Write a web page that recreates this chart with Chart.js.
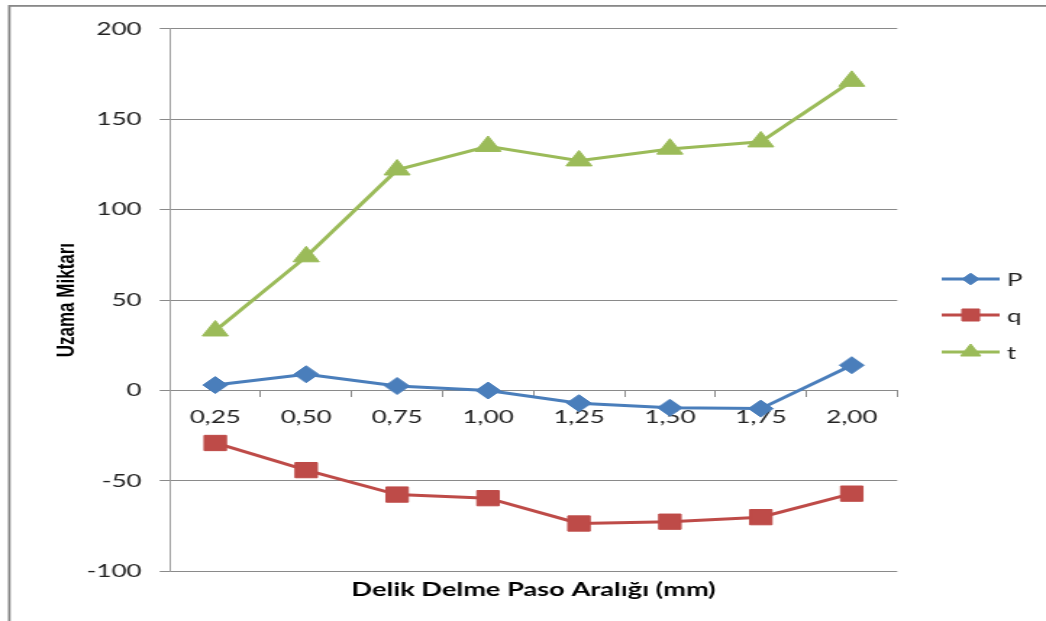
<!DOCTYPE html>
<html>
<head>
<meta charset="utf-8">
<script src="https://cdn.jsdelivr.net/npm/chart.js@4.4.1/dist/chart.umd.min.js"></script>
<style>
  html, body { margin: 0; padding: 0; background: #fff; overflow: hidden; }
  #wrap {
    position: absolute; left: 0; top: 0;
    width: 722px; height: 621px;
    transform: scaleX(1.44875); transform-origin: 0 0;
  }
</style>
</head>
<body>
<div id="wrap"><canvas id="c" width="722" height="621"></canvas></div>
<script>
// Hole-drilling pitch (mm) and measured elongation per series
const categories = ['0,25', '0,50', '0,75', '1,00', '1,25', '1,50', '1,75', '2,00'];
const seriesP = [3, 9, 2.5, 0, -7, -9.5, -10, 14];
const seriesQ = [-29, -44, -57.5, -59.5, -73.5, -72.5, -70, -57];
const seriesT = [33, 74, 122, 135, 127, 133.5, 137.5, 171];
const seriesNames = ['P', 'q', 't'];
const yMin = -100, yMax = 200, yStep = 50;

const xTitle = 'Delik Delme Paso Aralığı (mm)';
const yTitle = 'Uzama Miktarı';

const COLORS = { P: '#4a7ebb', q: '#be4b48', t: '#9bbb59' };
const GRID = '#8a8a8a';
const TEXT = '#222';
const TICK_FONT = { family: 'Lato', size: 18 };

// Outer frame of the chart object
const framePlugin = {
  id: 'frame',
  beforeDraw(chart) {
    const ctx = chart.ctx;
    ctx.save();
    ctx.strokeStyle = '#888';
    ctx.lineWidth = 1.8;
    ctx.strokeRect(6.4, 5.9, 900, 800);
    ctx.restore();
  }
};

// Legend on the right: short line with the series marker in its middle
const lineLegendPlugin = {
  id: 'lineLegend',
  afterDraw(chart) {
    const ctx = chart.ctx;
    const x0 = 650, x1 = 690, textX = 695;
    const rows = [279, 315, 352];
    const radii = [5.8, 8.5, 8];
    ctx.save();
    chart.data.datasets.forEach((ds, i) => {
      const y = rows[i];
      ctx.strokeStyle = ds.borderColor;
      ctx.lineWidth = 3;
      ctx.beginPath();
      ctx.moveTo(x0, y);
      ctx.lineTo(x1, y);
      ctx.stroke();
      ctx.fillStyle = ds.backgroundColor;
      ctx.strokeStyle = ds.borderColor;
      ctx.lineWidth = 1;
      Chart.helpers.drawPoint(ctx, {
        pointStyle: ds.pointStyle, radius: radii[i], borderWidth: 1, rotation: 0
      }, (x0 + x1) / 2, y);
      ctx.fillStyle = TEXT;
      ctx.font = `${TICK_FONT.size}px ${TICK_FONT.family}`;
      ctx.textAlign = 'left';
      ctx.textBaseline = 'middle';
      ctx.fillText(ds.label, textX, y + 1);
    });
    ctx.restore();
  }
};

function lineSet(label, data, color, style, radius) {
  return {
    label, data,
    borderColor: color, backgroundColor: color,
    borderWidth: 3, tension: 0,
    pointStyle: style, pointRadius: radius, pointHoverRadius: radius,
    pointBorderWidth: 1, pointBackgroundColor: color, pointBorderColor: color
  };
}

new Chart(document.getElementById('c'), {
  type: 'line',
  data: {
    labels: categories,
    datasets: [
      lineSet(seriesNames[0], seriesP, COLORS.P, 'rectRot', 8.5),
      lineSet(seriesNames[1], seriesQ, COLORS.q, 'rect', 10.8),
      lineSet(seriesNames[2], seriesT, COLORS.t, 'triangle', 10.3)
    ]
  },
  options: {
    responsive: false,
    animation: false,
    devicePixelRatio: 1,
    layout: { padding: { left: 0, top: 28.7, right: 102.7, bottom: 19.5 } },
    plugins: {
      legend: { display: false },
      tooltip: { enabled: false },
      title: {
        display: true, text: xTitle, position: 'bottom', fullSize: false,
        color: '#000', font: { family: 'Lato', size: 18.8, weight: 'bold' },
        padding: { top: 7.5, bottom: 0 }
      }
    },
    scales: {
      x: {
        type: 'category',
        position: { y: 0 },
        offset: true,
        grid: {
          display: true, drawOnChartArea: false, drawTicks: true,
          tickLength: 6, offset: true, color: GRID, lineWidth: 1
        },
        border: { display: true, color: GRID, width: 1 },
        ticks: {
          color: TEXT, font: TICK_FONT, padding: 10,
          autoSkip: false, maxRotation: 0, minRotation: 0
        }
      },
      y: {
        min: yMin, max: yMax,
        grid: { color: GRID, lineWidth: 1, tickLength: 7 },
        border: { display: true, color: '#9a9a9a', width: 1 },
        ticks: { stepSize: yStep, color: TEXT, font: TICK_FONT, padding: 12.4 },
        title: {
          display: true, text: yTitle, color: '#000',
          font: { family: 'Liberation Sans', size: 17, weight: 'bold' },
          padding: { top: 36.5, bottom: 0 }
        },
        afterFit(scale) { scale.width = 117.2; }
      }
    }
  },
  plugins: [framePlugin, lineLegendPlugin]
});
</script>
</body>
</html>
